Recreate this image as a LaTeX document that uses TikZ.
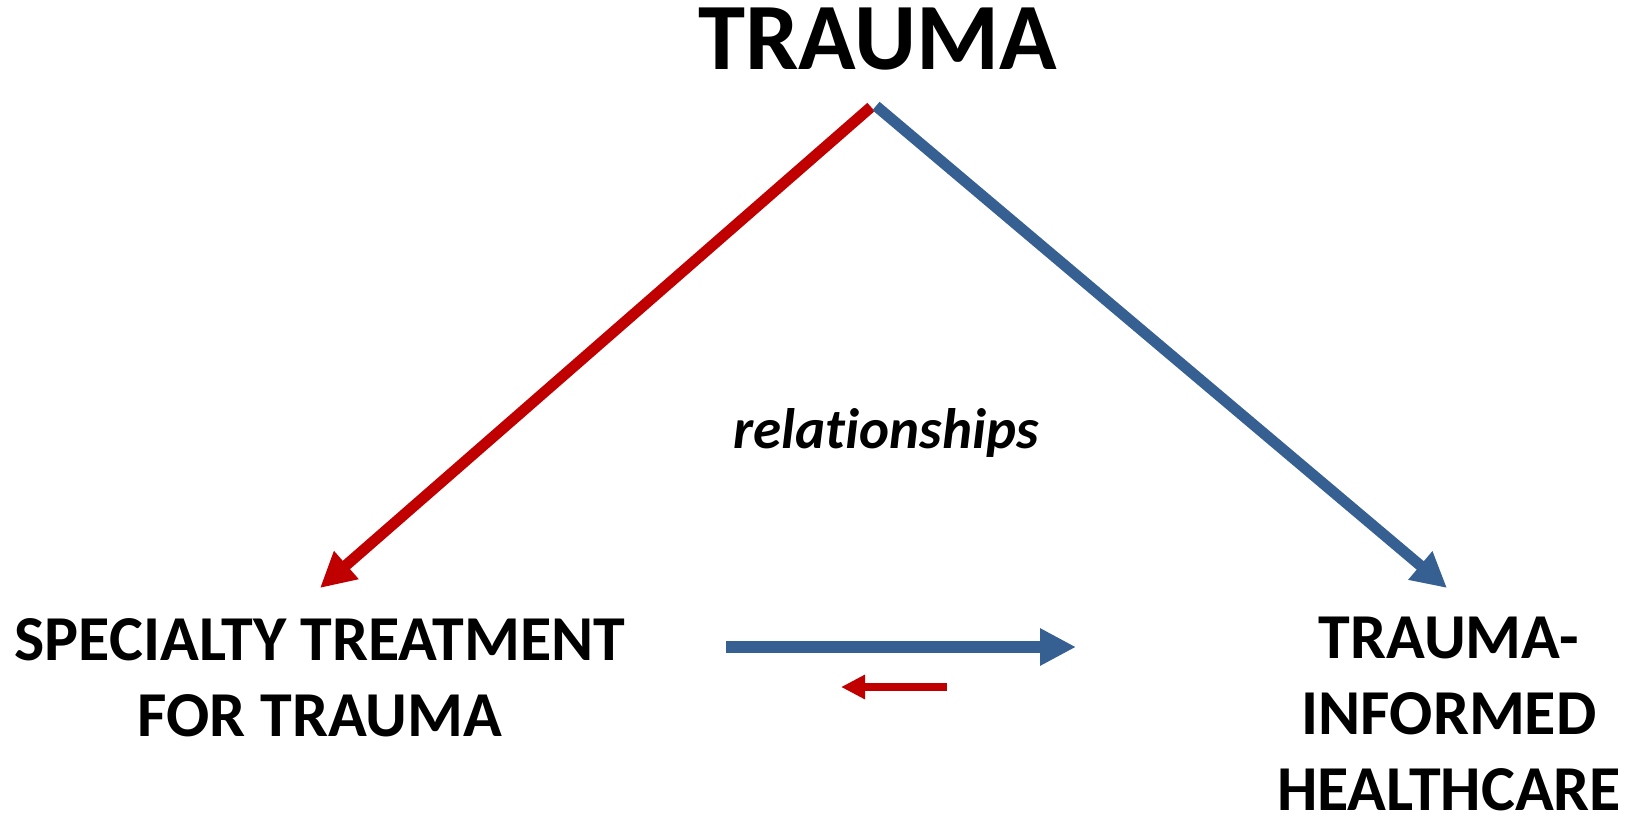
\documentclass[tikz,border=0pt]{standalone}
\usepackage{fontspec}
\setmainfont{Carlito}[Ligatures=NoCommon]
\usetikzlibrary{arrows.meta}

\definecolor{arrowred}{HTML}{C00000}
\definecolor{arrowblue}{HTML}{376092}

\tikzset{
  label text/.style={font=\bfseries\fontsize{64}{76}\selectfont, align=center, inner sep=0pt},
  title text/.style={font=\bfseries\fontsize{95}{110}\selectfont, inner sep=0pt},
  note text/.style={font=\bfseries\itshape\fontsize{57}{68}\selectfont, inner sep=0pt},
  big arrow/.style={line width=11pt, -{Triangle[length=35pt,width=35pt]}},
  wide arrow/.style={line width=12pt, -{Triangle[length=36pt,width=35pt]}},
  small arrow/.style={line width=8pt, -{Triangle[length=24pt,width=23pt]}},
}

\begin{document}
\begin{tikzpicture}[x=1pt,y=-1pt]
  \useasboundingbox (0,0) rectangle (1630,816);

  % labels
  \node[title text, anchor=base] (trauma) at (878,70) {TRAUMA};
  \node[note text, anchor=base] (rel) at (886,448) {relationships};
  \node[label text, anchor=base] (spec) at (320,736) {SPECIALTY TREATMENT\\FOR TRAUMA};
  \node[label text, anchor=base] (tic) at (1449,810) {TRAUMA-\\INFORMED\\HEALTHCARE};

  % arrow end points
  \coordinate (apexL) at (871,107);
  \coordinate (apexR) at (876,106);
  \coordinate (specTip) at (320,588);
  \coordinate (ticTip) at (1447,588);
  \coordinate (fwdStart) at (726,647);
  \coordinate (fwdEnd) at (1076,647);
  \coordinate (backStart) at (947,687);
  \coordinate (backEnd) at (841,687);

  % connectors
  \draw[big arrow, arrowred] (apexL) -- (specTip);
  \draw[big arrow, arrowblue] (apexR) -- (ticTip);
  \draw[wide arrow, arrowblue] (fwdStart) -- (fwdEnd);
  \draw[small arrow, arrowred] (backStart) -- (backEnd);
\end{tikzpicture}
\end{document}
